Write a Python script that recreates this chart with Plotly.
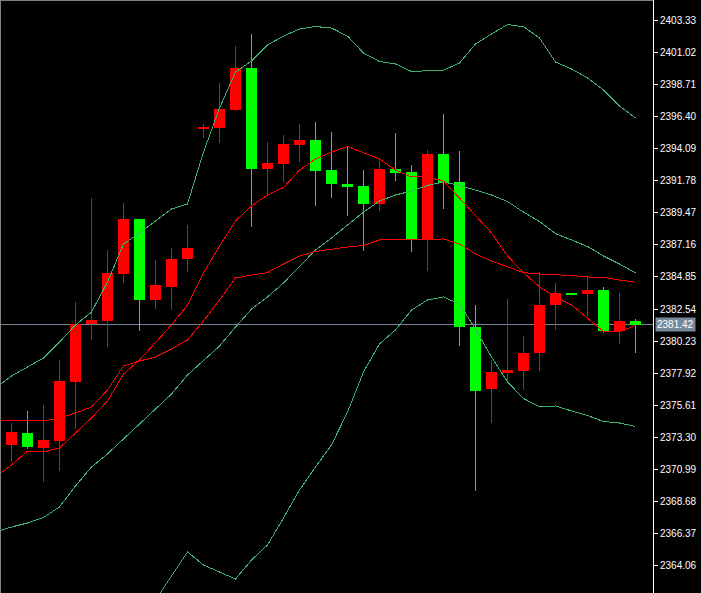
import plotly.graph_objects as go

# ---------------- data ----------------
bar_index = list(range(-1, 40))

open_prices = [2371.44, 2372.74, 2373.60, 2372.52, 2373.02, 2377.30, 2381.48, 2381.68, 2385.06, 2389.03,
               2383.22, 2384.12, 2386.14, 2395.56, 2395.61, 2396.89, 2399.92, 2392.64, 2393.00, 2394.37,
               2394.73, 2392.56, 2391.55, 2391.41, 2390.11, 2392.64, 2392.42, 2387.59, 2393.72, 2391.70,
               2381.22, 2376.77, 2377.93, 2378.07, 2379.37, 2382.83, 2383.70, 2383.62, 2383.91, 2380.95,
               2381.70]
high_prices = [2373.40, 2374.34, 2375.19, 2375.62, 2378.86, 2383.05, 2390.54, 2386.79, 2390.18, 2389.05,
               2386.09, 2386.93, 2388.60, 2395.88, 2398.84, 2401.50, 2402.37, 2394.58, 2395.09, 2395.88,
               2396.02, 2395.30, 2394.29, 2392.56, 2393.28, 2395.23, 2392.92, 2394.00, 2396.60, 2393.93,
               2382.83, 2378.86, 2383.26, 2380.59, 2385.24, 2384.42, 2383.72, 2384.83, 2384.13, 2383.69,
               2381.84]
low_prices = [2370.90, 2371.51, 2372.47, 2370.09, 2370.86, 2373.91, 2380.33, 2379.82, 2384.44, 2380.98,
              2382.57, 2382.46, 2385.22, 2394.89, 2394.53, 2396.80, 2388.47, 2390.83, 2391.70, 2393.14,
              2389.97, 2390.54, 2389.25, 2386.72, 2389.61, 2391.77, 2386.65, 2385.28, 2389.72, 2379.90,
              2369.44, 2374.32, 2377.28, 2376.70, 2378.07, 2381.03, 2383.60, 2381.98, 2380.79, 2380.05,
              2379.39]
close_prices = [2372.81, 2373.67, 2372.59, 2373.10, 2377.35, 2381.46, 2381.75, 2385.12, 2389.03, 2383.21,
                2384.26, 2386.14, 2386.93, 2395.64, 2396.96, 2399.92, 2392.64, 2393.07, 2394.44, 2394.73,
                2392.49, 2391.55, 2391.34, 2390.11, 2392.64, 2392.35, 2387.59, 2393.72, 2391.63, 2381.21,
                2376.65, 2378.00, 2378.14, 2379.37, 2382.83, 2383.69, 2383.62, 2383.91, 2380.98, 2381.68,
                2381.42]

upper_band = [2376.85, 2377.71, 2378.36, 2379.01, 2380.16, 2381.39, 2382.32, 2384.49, 2387.23, 2388.02,
              2388.89, 2389.75, 2390.11, 2393.86, 2397.03, 2399.63, 2400.42, 2401.58, 2402.22, 2402.73,
              2402.91, 2402.80, 2402.22, 2401.00, 2400.39, 2400.21, 2399.67, 2399.70, 2399.77, 2400.28,
              2401.65, 2402.37, 2403.05, 2402.90, 2402.08, 2400.35, 2399.85, 2399.20, 2398.33, 2397.18,
              2396.31]
middle_band = [2366.46, 2366.82, 2367.11, 2367.51, 2368.27, 2369.78, 2371.15, 2372.09, 2373.17, 2374.25,
               2375.33, 2376.41, 2377.78, 2378.79, 2379.87, 2381.24, 2382.54, 2383.41, 2384.42, 2385.61,
               2386.79, 2387.66, 2388.60, 2389.53, 2390.33, 2390.76, 2391.05, 2391.45, 2391.70, 2391.45,
               2391.12, 2390.76, 2390.29, 2389.53, 2388.85, 2387.98, 2387.52, 2387.05, 2386.36, 2385.79,
               2385.14]
lower_band = [2356.08, 2355.94, 2355.86, 2356.01, 2356.37, 2358.17, 2359.97, 2359.69, 2359.11, 2360.48,
              2361.56, 2363.29, 2365.02, 2364.08, 2363.58, 2363.07, 2364.44, 2365.53, 2367.47, 2369.49,
              2371.15, 2372.74, 2375.11, 2378.00, 2380.02, 2381.03, 2382.47, 2383.19, 2383.41, 2382.90,
              2381.10, 2379.08, 2377.28, 2376.09, 2375.48, 2375.55, 2375.19, 2374.86, 2374.43, 2374.32,
              2374.07]
red_fast = [2370.43, 2371.29, 2372.30, 2372.23, 2372.52, 2373.60, 2374.68, 2375.91, 2377.85, 2378.86,
            2380.16, 2381.39, 2382.83, 2385.14, 2387.08, 2388.89, 2389.97, 2390.76, 2391.30, 2392.56,
            2393.36, 2393.86, 2394.26, 2393.79, 2393.36, 2392.56, 2392.06, 2392.06, 2391.77, 2390.54,
            2389.25, 2388.02, 2386.36, 2385.17, 2384.13, 2383.41, 2382.83, 2381.89, 2380.92, 2380.88,
            2381.39]
red_slow = [2374.47, 2374.47, 2374.47, 2374.47, 2374.68, 2375.04, 2375.48, 2376.70, 2378.43, 2378.79,
            2379.08, 2379.66, 2380.31, 2381.68, 2383.19, 2384.78, 2384.99, 2385.17, 2385.79, 2386.36,
            2386.69, 2386.87, 2387.01, 2387.12, 2387.52, 2387.52, 2387.55, 2387.55, 2387.59, 2387.23,
            2386.51, 2386.00, 2385.57, 2385.17, 2385.06, 2385.01, 2384.96, 2384.85, 2384.83, 2384.63,
            2384.47]

tick_values = [2403.33, 2401.02, 2398.71, 2396.40, 2394.09, 2391.78, 2389.47, 2387.16, 2384.85,
               2382.54, 2380.23, 2377.92, 2375.61, 2373.30, 2370.99, 2368.68, 2366.37, 2364.06]
tick_labels = [f"{v:.2f}" for v in tick_values]
bid_price = 2381.42

# ---------------- styling ----------------
UP = "#FF0000"
DOWN = "#00FF00"
BAND = "#3CB371"
MA = "#FF0000"
BID = "#778899"
FONT = "Liberation Sans"

fig = go.Figure()

# wicks
for color, is_up in ((UP, True), (DOWN, False)):
    wx, wy = [], []
    for i, o, h, l, c in zip(bar_index, open_prices, high_prices, low_prices, close_prices):
        if (c >= o) == is_up:
            wx += [i, i, None]
            wy += [l, h, None]
    fig.add_trace(go.Scatter(x=wx, y=wy, mode="lines", line=dict(color=color, width=1),
                             hoverinfo="skip"))

# bodies
for color, is_up in ((UP, True), (DOWN, False)):
    bx, bh, bb = [], [], []
    for i, o, c in zip(bar_index, open_prices, close_prices):
        if (c >= o) == is_up:
            bx.append(i)
            bh.append(abs(c - o))
            bb.append(min(o, c))
    fig.add_trace(go.Bar(x=bx, y=bh, base=bb, width=0.6875,
                         marker=dict(color=color, line=dict(width=0))))

# indicator lines
for series, color in ((upper_band, BAND), (middle_band, BAND), (lower_band, BAND),
                      (red_slow, MA), (red_fast, MA)):
    fig.add_trace(go.Scatter(x=bar_index, y=series, mode="lines",
                             line=dict(color=color, width=1)))

fig.add_shape(type="line", xref="paper", yref="y", x0=0, x1=1, y0=bid_price, y1=bid_price,
              line=dict(color=BID, width=1), layer="below")
fig.add_shape(type="line", xref="paper", yref="paper", x0=0, x1=0, y0=0, y1=1,
              line=dict(color="#808080", width=2))
fig.add_shape(type="line", xref="paper", yref="paper", x0=0, x1=1, y0=1, y1=1,
              line=dict(color="#808080", width=2))

fig.add_annotation(x=1, xref="paper", y=bid_price, yref="y", xanchor="left", yanchor="middle",
                   xshift=2, text=f"{bid_price:.2f}", showarrow=False, bgcolor=BID,
                   font=dict(family=FONT, size=10, color="#FFFFFF"), borderpad=1)

fig.update_layout(
    width=701, height=593,
    margin=dict(l=0, r=48, t=0, b=0),
    paper_bgcolor="#000000", plot_bgcolor="#000000",
    showlegend=False, barmode="overlay", bargap=0,
    xaxis=dict(visible=False, range=[-0.71875, 40.09375], fixedrange=True),
    yaxis=dict(range=[2362.0627, 2404.8227], side="right", tickmode="array",
               tickvals=tick_values, ticktext=tick_labels, ticks="outside", ticklen=4,
               tickcolor="#FFFFFF", showline=True, linecolor="#FFFFFF", linewidth=1,
               showgrid=False, zeroline=False, fixedrange=True,
               tickfont=dict(family=FONT, size=10, color="#FFFFFF")),
)

page_js = (
    "document.body.style.margin='0';"
    "document.body.style.overflow='hidden';"
    "document.body.style.background='#000';"
    "var st=document.createElement('style');"
    "st.textContent='.scatterlayer path.js-line{shape-rendering:crispEdges;}';"
    "document.head.appendChild(st);"
)
fig.write_html("out.html", config={"displayModeBar": False}, post_script=page_js)
